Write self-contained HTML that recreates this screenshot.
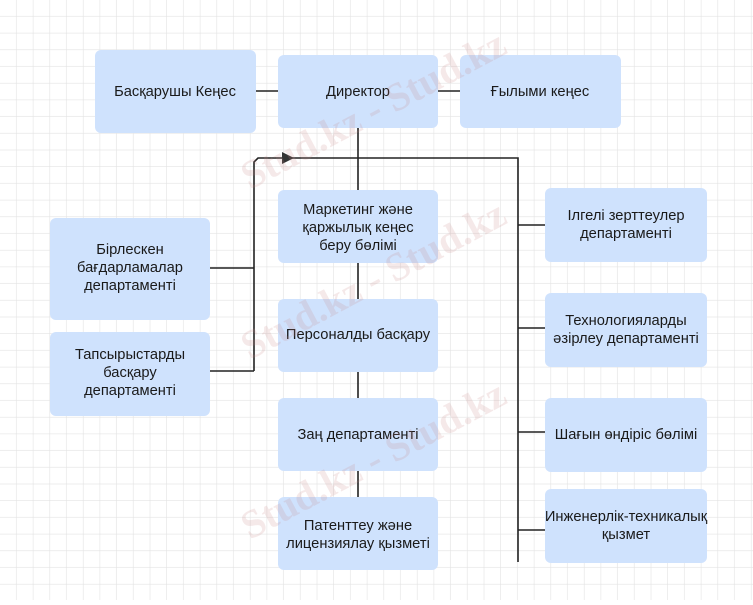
<!DOCTYPE html>
<html><head><meta charset="utf-8"><style>
body{margin:0;width:753px;height:600px;overflow:hidden;background:#fff;font-family:"Liberation Sans",sans-serif}
</style></head><body>
<svg width="753" height="600" xmlns="http://www.w3.org/2000/svg">
<defs>
<pattern id="g" width="16.7" height="16.7" patternUnits="userSpaceOnUse" x="0" y="0">
<path d="M16.7 0V16.7M0 16.7H16.7" stroke="#e3e3e3" stroke-width="1.2" fill="none"/>
</pattern>
</defs>
<rect width="753" height="600" fill="url(#g)"/>
<g stroke="#222" stroke-width="1.6" fill="none">
<line x1="256" y1="91" x2="278" y2="91"/>
<line x1="438" y1="91" x2="460" y2="91"/>
<line x1="358" y1="128" x2="358" y2="497"/>
<polyline points="254,371 254,162 258,158 518,158 518,562"/>
<line x1="210" y1="268" x2="254" y2="268"/>
<line x1="210" y1="371" x2="254" y2="371"/>
<line x1="518" y1="225" x2="545" y2="225"/>
<line x1="518" y1="328" x2="545" y2="328"/>
<line x1="518" y1="432" x2="545" y2="432"/>
<line x1="518" y1="530" x2="545" y2="530"/>
</g>
<polygon points="282,152 294,158 282,164" fill="#333"/>
<g fill="#cfe2fd">
<rect x="95" y="50" width="161" height="83" rx="6"/>
<rect x="278" y="55" width="160" height="73" rx="6"/>
<rect x="460" y="55" width="161" height="73" rx="6"/>
<rect x="278" y="190" width="160" height="73" rx="6"/>
<rect x="278" y="299" width="160" height="73" rx="6"/>
<rect x="278" y="398" width="160" height="73" rx="6"/>
<rect x="278" y="497" width="160" height="73" rx="6"/>
<rect x="50" y="218" width="160" height="102" rx="6"/>
<rect x="50" y="332" width="160" height="84" rx="6"/>
<rect x="545" y="188" width="162" height="74" rx="6"/>
<rect x="545" y="293" width="162" height="74" rx="6"/>
<rect x="545" y="398" width="162" height="74" rx="6"/>
<rect x="545" y="489" width="162" height="74" rx="6"/>
</g>
<g font-family="Liberation Sans, sans-serif" font-size="14.7" fill="#1a1a1a" text-anchor="middle">
<text x="175" y="96">Басқарушы Кеңес</text>
<text x="358" y="96">Директор</text>
<text x="540" y="96">Ғылыми кеңес</text>
<text x="358" y="214">Маркетинг және</text>
<text x="358" y="232">қаржылық кеңес</text>
<text x="358" y="250">беру бөлімі</text>
<text x="358" y="339">Персоналды басқару</text>
<text x="358" y="439">Заң департаменті</text>
<text x="358" y="530">Патенттеу және</text>
<text x="358" y="548">лицензиялау қызметі</text>
<text x="130" y="254">Бірлескен</text>
<text x="130" y="272">бағдарламалар</text>
<text x="130" y="290">департаменті</text>
<text x="130" y="359">Тапсырыстарды</text>
<text x="130" y="377">басқару</text>
<text x="130" y="395">департаменті</text>
<text x="626" y="220">Ілгелі зерттеулер</text>
<text x="626" y="238">департаменті</text>
<text x="626" y="325">Технологияларды</text>
<text x="626" y="343">әзірлеу департаменті</text>
<text x="626" y="439">Шағын өндіріс бөлімі</text>
<text x="626" y="521">Инженерлік-техникалық</text>
<text x="626" y="539">қызмет</text>
</g>
<g font-family="Liberation Serif, serif" font-weight="bold" font-size="40" fill="#c98a8a" opacity="0.18">
<text x="250" y="190" transform="rotate(-28 250 190)">Stud.kz - Stud.kz</text>
<text x="250" y="360" transform="rotate(-28 250 360)">Stud.kz - Stud.kz</text>
<text x="250" y="540" transform="rotate(-28 250 540)">Stud.kz - Stud.kz</text>
</g>
</svg>
</body></html>
